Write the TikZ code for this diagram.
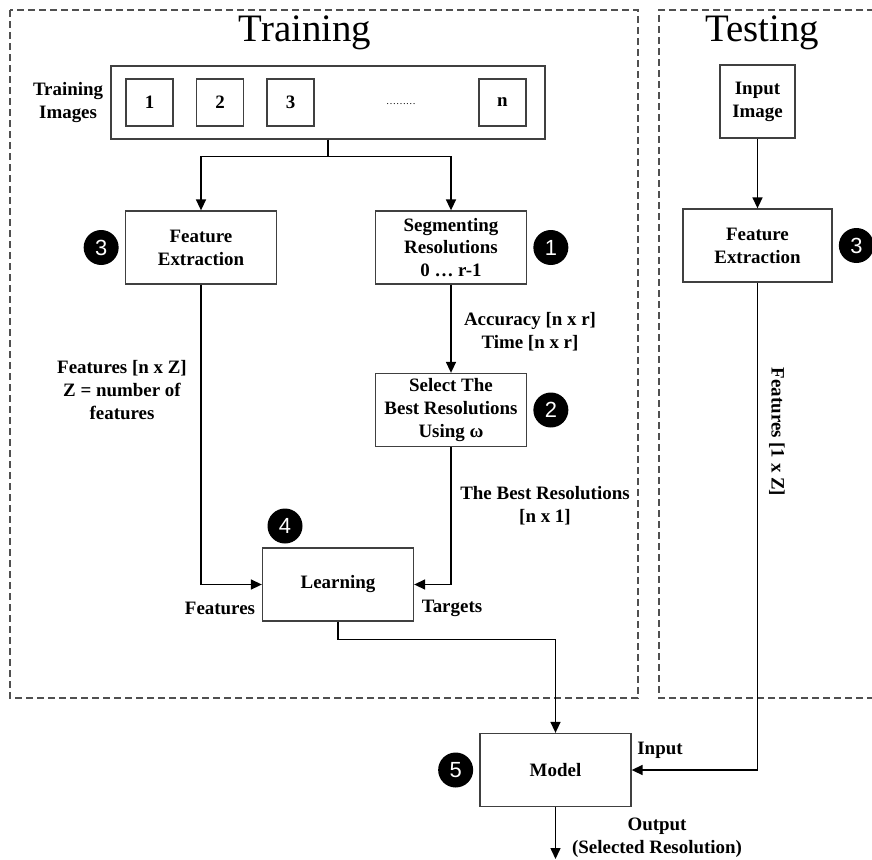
\documentclass[tikz,border=0pt]{standalone}
\usepackage{fontspec}
\setmainfont{Liberation Serif}
\newfontfamily\numfont{Liberation Sans}
\usetikzlibrary{arrows.meta,positioning}
\definecolor{edgegray}{HTML}{404040}
\definecolor{dashgray}{HTML}{505050}
\tikzset{
  ar/.style={-{Triangle[length=11bp,width=10bp]},line width=1.5bp,black},
  box/.style={draw=edgegray,line width=1.3bp,fill=white,align=center,minimum width=151bp,minimum height=73bp,inner sep=2pt,font=\bfseries\fontsize{19}{23}\selectfont},
  sq/.style={draw=edgegray,line width=1.3bp,minimum size=47bp,inner sep=0pt,font=\bfseries\fontsize{19}{23}\selectfont},
  lbl/.style={align=center,inner sep=0pt,font=\bfseries\fontsize{19}{23}\selectfont},
  badge/.style={circle,fill=black,text=white,minimum size=35bp,inner sep=0pt,font=\numfont\fontsize{22}{22}\selectfont},
  frame/.style={draw=dashgray,line width=1.3bp,dash pattern=on 7bp off 4bp},
  ttl/.style={font=\fontsize{39}{39}\selectfont,inner sep=0pt}
}
\begin{document}
\begin{tikzpicture}[x=1bp,y=-1bp]
\useasboundingbox (0,0) rectangle (872,860);
% frames
\draw[frame] (10,10) rectangle (638,698);
\draw[frame] (885,10) -- (659,10) -- (659,698) -- (885,698);
\node[ttl] (ttrain) at (305,33) {Training};
\node[ttl] (ttest) at (762,33) {Testing};
% training images
\node[box,minimum width=434bp] (imgs) at (328,102.5) {};
\foreach \k/\x in {1/149.5,2/220,3/290.5,n/502.5}
  \node[sq] (im\k) at (\x,102.5) {\k};
\node[font=\fontsize{10}{10}\selectfont] (dots) at (401,104) {\dots\dots\dots};
\node[lbl,left=7bp of imgs] (imlbl) {Training\\Images};
% boxes
\node[box] (fe1) at (201,247.5) {Feature\\Extraction};
\node[box] (seg) at (451,247.5) {Segmenting\\Resolutions\\0 \dots\ r-1};
\node[box] (sel) at (451,410) {Select The\\Best Resolutions\\Using ω};
\node[box] (lrn) at (338,584.5) {Learning};
\node[box] (mdl) at (555.5,770) {Model};
\node[box,minimum width=75bp] (inp) at (757.5,101.5) {Input\\Image};
\node[box,minimum width=149bp] (fe2) at (757.5,245.5) {Feature\\Extraction};
% badges
\node[badge,left=6bp of fe1] (b3) {3};
\node[badge,right=6bp of seg] (b1) {1};
\node[badge,right=6bp of sel] (b2) {2};
\node[badge] (b4) at (285,526) {4};
\node[badge,left=6bp of mdl] (b5) {5};
\node[badge,right=6bp of fe2] (b3t) {3};
% connectors
\draw[ar] (imgs.south) -- ++(0,17) -| (fe1.north);
\draw[ar] (imgs.south) -- ++(0,17) -| (seg.north);
\draw[ar] (seg) -- (sel);
\draw[ar] (fe1.south) |- (lrn.west);
\draw[ar] (sel.south) |- (lrn.east);
\draw[ar] (lrn.south) -- ++(0,18) -| (mdl.north);
\draw[ar] (inp) -- (fe2);
\draw[ar] (fe2.south) |- (mdl.east);
\coordinate (out) at (555.5,859);
\draw[ar] (mdl.south) -- (out);
% labels
\node[lbl] (accl) at (530,332) {Accuracy [n x r]\\Time [n x r]};
\node[lbl] (ftl) at (122,390) {Features [n x Z]\\Z = number of\\features};
\node[lbl] (bestl) at (545,506) {The Best Resolutions\\{}[n x 1]};
\node[lbl] (ftin) at (220,608) {Features};
\node[lbl] (tgt) at (452,608) {Targets};
\node[lbl] (inl) at (660,750) {Input};
\node[lbl] (outl) at (657,838) {Output\\(Selected Resolution)};
\node[lbl,rotate=-90] (ft2) at (777,432) {Features [1 x Z]};
\end{tikzpicture}
\end{document}
